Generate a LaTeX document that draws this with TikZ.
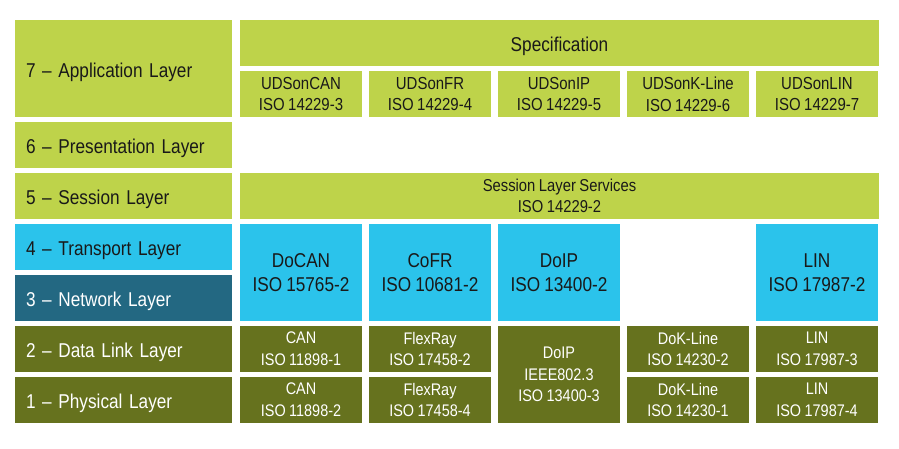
\documentclass[tikz,border=0pt]{standalone}
\usepackage{fontspec}
\setmainfont[FakeStretch=0.86, WordSpace=0.86]{Liberation Sans}
\definecolor{appgreen}{RGB}{190,211,74}
\definecolor{tpblue}{RGB}{43,195,235}
\definecolor{netteal}{RGB}{35,104,130}
\definecolor{linkolive}{RGB}{102,114,30}
\tikzset{
node distance=51pt, % row pitch of the grid (center to center)
every node/.style={inner sep=0pt, outer sep=0pt}, % boxes sit edge to edge
layer/.style={minimum width=217pt, minimum height=46pt, inner xsep=11pt, text width=195pt, align=left, font=\fontsize{20}{24}\selectfont, execute at begin node={\rule{0pt}{22pt}}}, % left column
cell/.style={minimum width=122pt, minimum height=46pt, align=center, font=\fontsize{17.4}{21.7}\selectfont, execute at begin node={\rule{0pt}{16.6pt}}}, % small boxes on the right
big/.style={minimum width=122pt, minimum height=97pt, align=center, font=\fontsize{20}{24.3}\selectfont, execute at begin node={\rule{0pt}{16pt}}}, % transport/network boxes
light/.style={fill=appgreen, text=black!90},
blue/.style={fill=tpblue, text=black!90},
dark/.style={fill=linkolive, text=white, font=\fontsize{16.8}{21.6}\selectfont},
}

\begin{document}
\begin{tikzpicture}
        \useasboundingbox (0,0) rectangle (899pt,-449pt);

        % OSI layers
        \node[layer, light, minimum height=97pt] (l7) at (123.5pt,-68.5pt) {7 -- Application Layer};
        \node[layer, light] (l6) at (123.5pt,-145pt) {6 -- Presentation Layer};
        \node[layer, light, below of=l6] (l5) {5 -- Session Layer};
        \node[layer, blue, below of=l5] (l4) {4 -- Transport Layer};
        \node[layer, fill=netteal, text=white, below of=l4] (l3) {3 -- Network Layer};
        \node[layer, fill=linkolive, text=white, below of=l3] (l2) {2 -- Data Link Layer};
        \node[layer, fill=linkolive, text=white, below of=l2] (l1) {1 -- Physical Layer};

        % application layer
        \node[cell, light, minimum width=639pt, font=\fontsize{20}{24}\selectfont, execute at begin node={\rule{0pt}{21.6pt}}] (spec) at (559.5pt,-43pt) {Specification};
        \node[cell, light] (uds1) at (301pt,-94pt) {UDSonCAN\\ISO 14229-3};
        \node[cell, light, right of=uds1, node distance=129pt] (uds2) {UDSonFR\\ISO 14229-4};
        \node[cell, light, right of=uds2, node distance=129pt] (uds3) {UDSonIP\\ISO 14229-5};
        \node[cell, light, right of=uds3, node distance=129pt] (uds4) {UDSonK-Line\\ISO 14229-6};
        \node[cell, light, right of=uds4, node distance=129pt] (uds5) {UDSonLIN\\ISO 14229-7};

        % session layer
        \node[cell, light, minimum width=639pt, font=\fontsize{17.2}{21.7}\selectfont] (sls) at (559.5pt,-196pt) {Session Layer Services\\ISO 14229-2};

        % transport + network
        \node[big, blue] (docan) at (301pt,-272.5pt) {DoCAN\\ISO 15765-2};
        \node[big, blue, right of=docan, node distance=129pt] (cofr) {CoFR\\ISO 10681-2};
        \node[big, blue, right of=cofr, node distance=129pt] (doip) {DoIP\\ISO 13400-2};
        \node[big, blue, right of=doip, node distance=258pt] (lin) {LIN\\ISO 17987-2};

        % data link + physical
        \node[cell, dark] (can2) at (301pt,-349pt) {CAN\\ISO 11898-1};
        \node[cell, dark, right of=can2, node distance=129pt] (fr2) {FlexRay\\ISO 17458-2};
        \node[cell, dark, right of=fr2, node distance=258pt] (dok2) {DoK-Line\\ISO 14230-2};
        \node[cell, dark, right of=dok2, node distance=129pt] (lin3) {LIN\\ISO 17987-3};
        \node[cell, dark, below of=can2] (can1) {CAN\\ISO 11898-2};
        \node[cell, dark, below of=fr2] (fr1) {FlexRay\\ISO 17458-4};
        \node[cell, dark, below of=dok2] (dok1) {DoK-Line\\ISO 14230-1};
        \node[cell, dark, below of=lin3] (lin4) {LIN\\ISO 17987-4};
        \node[cell, dark, minimum height=97pt] (doipl) at (559pt,-374.5pt) {DoIP\\IEEE802.3\\ISO 13400-3};
    \end{tikzpicture}
\end{document}
